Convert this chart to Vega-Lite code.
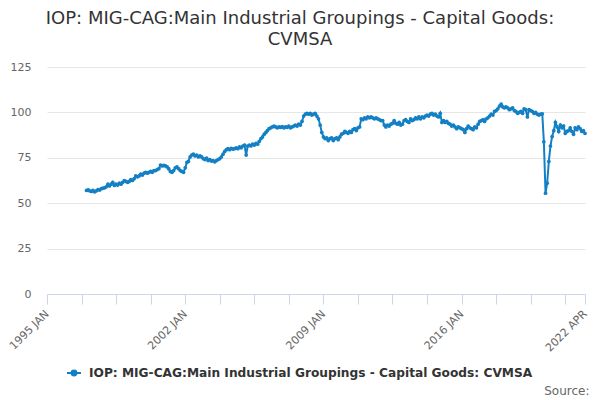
{
  "$schema": "https://vega.github.io/schema/vega-lite/v6.json",
  "width": 538,
  "height": 227,
  "autosize": {"type": "none"},
  "padding": {"left": 47, "top": 67, "right": 15, "bottom": 106},
  "background": "white",
  "title": {
    "text": ["IOP: MIG-CAG:Main Industrial Groupings - Capital Goods:", "CVMSA"],
    "font": "DejaVu Sans",
    "fontSize": 18,
    "fontWeight": "normal",
    "color": "#333333",
    "anchor": "middle",
    "dx": -16,
    "offset": 12,
    "lineHeight": 21
  },
  "data": {
    "values": [
      {"d":"1997-01-01","v":57.0},{"d":"1997-02-01","v":57.3},{"d":"1997-03-01","v":56.8},{"d":"1997-04-01","v":56.5},{"d":"1997-05-01","v":57.0},{"d":"1997-06-01","v":56.3},{"d":"1997-07-01","v":56.8},{"d":"1997-08-01","v":57.5},{"d":"1997-09-01","v":57.2},{"d":"1997-10-01","v":58.0},{"d":"1997-11-01","v":58.3},{"d":"1997-12-01","v":58.5},
      {"d":"1998-01-01","v":59.0},{"d":"1998-02-01","v":60.5},{"d":"1998-03-01","v":59.5},{"d":"1998-04-01","v":60.5},{"d":"1998-05-01","v":61.5},{"d":"1998-06-01","v":59.8},{"d":"1998-07-01","v":60.5},{"d":"1998-08-01","v":60.0},{"d":"1998-09-01","v":61.0},{"d":"1998-10-01","v":60.5},{"d":"1998-11-01","v":61.5},{"d":"1998-12-01","v":62.5},
      {"d":"1999-01-01","v":62.0},{"d":"1999-02-01","v":61.5},{"d":"1999-03-01","v":62.0},{"d":"1999-04-01","v":63.0},{"d":"1999-05-01","v":62.5},{"d":"1999-06-01","v":63.5},{"d":"1999-07-01","v":65.0},{"d":"1999-08-01","v":64.5},{"d":"1999-09-01","v":65.0},{"d":"1999-10-01","v":66.0},{"d":"1999-11-01","v":65.5},{"d":"1999-12-01","v":66.5},
      {"d":"2000-01-01","v":67.0},{"d":"2000-02-01","v":66.5},{"d":"2000-03-01","v":67.0},{"d":"2000-04-01","v":67.5},{"d":"2000-05-01","v":67.0},{"d":"2000-06-01","v":68.0},{"d":"2000-07-01","v":68.0},{"d":"2000-08-01","v":68.5},{"d":"2000-09-01","v":69.0},{"d":"2000-10-01","v":71.0},{"d":"2000-11-01","v":70.5},{"d":"2000-12-01","v":70.8},
      {"d":"2001-01-01","v":70.5},{"d":"2001-02-01","v":70.0},{"d":"2001-03-01","v":69.0},{"d":"2001-04-01","v":67.5},{"d":"2001-05-01","v":67.0},{"d":"2001-06-01","v":68.0},{"d":"2001-07-01","v":69.5},{"d":"2001-08-01","v":70.0},{"d":"2001-09-01","v":69.0},{"d":"2001-10-01","v":68.0},{"d":"2001-11-01","v":67.5},{"d":"2001-12-01","v":67.0},
      {"d":"2002-01-01","v":69.5},{"d":"2002-02-01","v":72.5},{"d":"2002-03-01","v":73.0},{"d":"2002-04-01","v":75.5},{"d":"2002-05-01","v":76.5},{"d":"2002-06-01","v":77.0},{"d":"2002-07-01","v":76.0},{"d":"2002-08-01","v":76.5},{"d":"2002-09-01","v":75.5},{"d":"2002-10-01","v":76.0},{"d":"2002-11-01","v":75.5},{"d":"2002-12-01","v":74.5},
      {"d":"2003-01-01","v":74.0},{"d":"2003-02-01","v":74.8},{"d":"2003-03-01","v":73.5},{"d":"2003-04-01","v":74.0},{"d":"2003-05-01","v":73.2},{"d":"2003-06-01","v":73.5},{"d":"2003-07-01","v":72.8},{"d":"2003-08-01","v":73.5},{"d":"2003-09-01","v":74.0},{"d":"2003-10-01","v":74.5},{"d":"2003-11-01","v":75.5},{"d":"2003-12-01","v":77.0},
      {"d":"2004-01-01","v":78.5},{"d":"2004-02-01","v":79.5},{"d":"2004-03-01","v":80.0},{"d":"2004-04-01","v":79.5},{"d":"2004-05-01","v":80.2},{"d":"2004-06-01","v":79.8},{"d":"2004-07-01","v":80.0},{"d":"2004-08-01","v":80.5},{"d":"2004-09-01","v":80.0},{"d":"2004-10-01","v":81.0},{"d":"2004-11-01","v":80.5},{"d":"2004-12-01","v":81.5},
      {"d":"2005-01-01","v":82.0},{"d":"2005-02-01","v":76.5},{"d":"2005-03-01","v":81.5},{"d":"2005-04-01","v":82.0},{"d":"2005-05-01","v":81.5},{"d":"2005-06-01","v":82.5},{"d":"2005-07-01","v":82.0},{"d":"2005-08-01","v":83.0},{"d":"2005-09-01","v":82.5},{"d":"2005-10-01","v":84.0},{"d":"2005-11-01","v":85.5},{"d":"2005-12-01","v":86.5},
      {"d":"2006-01-01","v":88.0},{"d":"2006-02-01","v":89.0},{"d":"2006-03-01","v":90.0},{"d":"2006-04-01","v":91.0},{"d":"2006-05-01","v":91.5},{"d":"2006-06-01","v":92.0},{"d":"2006-07-01","v":92.5},{"d":"2006-08-01","v":92.0},{"d":"2006-09-01","v":91.5},{"d":"2006-10-01","v":92.0},{"d":"2006-11-01","v":91.8},{"d":"2006-12-01","v":92.2},
      {"d":"2007-01-01","v":91.5},{"d":"2007-02-01","v":92.0},{"d":"2007-03-01","v":91.8},{"d":"2007-04-01","v":92.5},{"d":"2007-05-01","v":91.5},{"d":"2007-06-01","v":92.0},{"d":"2007-07-01","v":92.5},{"d":"2007-08-01","v":93.0},{"d":"2007-09-01","v":92.5},{"d":"2007-10-01","v":93.5},{"d":"2007-11-01","v":93.0},{"d":"2007-12-01","v":95.0},
      {"d":"2008-01-01","v":98.0},{"d":"2008-02-01","v":99.0},{"d":"2008-03-01","v":99.5},{"d":"2008-04-01","v":99.0},{"d":"2008-05-01","v":99.5},{"d":"2008-06-01","v":98.5},{"d":"2008-07-01","v":99.0},{"d":"2008-08-01","v":99.5},{"d":"2008-09-01","v":98.0},{"d":"2008-10-01","v":96.5},{"d":"2008-11-01","v":93.0},{"d":"2008-12-01","v":89.0},
      {"d":"2009-01-01","v":86.5},{"d":"2009-02-01","v":85.5},{"d":"2009-03-01","v":86.0},{"d":"2009-04-01","v":84.5},{"d":"2009-05-01","v":85.5},{"d":"2009-06-01","v":86.0},{"d":"2009-07-01","v":84.5},{"d":"2009-08-01","v":85.5},{"d":"2009-09-01","v":86.0},{"d":"2009-10-01","v":85.0},{"d":"2009-11-01","v":86.5},{"d":"2009-12-01","v":88.0},
      {"d":"2010-01-01","v":88.5},{"d":"2010-02-01","v":89.5},{"d":"2010-03-01","v":89.0},{"d":"2010-04-01","v":88.5},{"d":"2010-05-01","v":89.5},{"d":"2010-06-01","v":89.0},{"d":"2010-07-01","v":90.5},{"d":"2010-08-01","v":91.0},{"d":"2010-09-01","v":90.0},{"d":"2010-10-01","v":91.5},{"d":"2010-11-01","v":92.0},{"d":"2010-12-01","v":96.5},
      {"d":"2011-01-01","v":96.0},{"d":"2011-02-01","v":97.0},{"d":"2011-03-01","v":96.5},{"d":"2011-04-01","v":97.5},{"d":"2011-05-01","v":97.0},{"d":"2011-06-01","v":97.5},{"d":"2011-07-01","v":97.0},{"d":"2011-08-01","v":96.5},{"d":"2011-09-01","v":97.0},{"d":"2011-10-01","v":96.5},{"d":"2011-11-01","v":96.0},{"d":"2011-12-01","v":95.5},
      {"d":"2012-01-01","v":95.5},{"d":"2012-02-01","v":93.0},{"d":"2012-03-01","v":92.0},{"d":"2012-04-01","v":93.0},{"d":"2012-05-01","v":92.5},{"d":"2012-06-01","v":93.5},{"d":"2012-07-01","v":94.0},{"d":"2012-08-01","v":95.5},{"d":"2012-09-01","v":94.0},{"d":"2012-10-01","v":93.5},{"d":"2012-11-01","v":94.5},{"d":"2012-12-01","v":93.0},
      {"d":"2013-01-01","v":93.5},{"d":"2013-02-01","v":95.5},{"d":"2013-03-01","v":96.0},{"d":"2013-04-01","v":95.0},{"d":"2013-05-01","v":94.5},{"d":"2013-06-01","v":96.5},{"d":"2013-07-01","v":95.5},{"d":"2013-08-01","v":96.0},{"d":"2013-09-01","v":97.0},{"d":"2013-10-01","v":96.5},{"d":"2013-11-01","v":97.5},{"d":"2013-12-01","v":96.5},
      {"d":"2014-01-01","v":97.5},{"d":"2014-02-01","v":97.0},{"d":"2014-03-01","v":98.0},{"d":"2014-04-01","v":98.5},{"d":"2014-05-01","v":98.0},{"d":"2014-06-01","v":99.0},{"d":"2014-07-01","v":99.5},{"d":"2014-08-01","v":98.5},{"d":"2014-09-01","v":99.0},{"d":"2014-10-01","v":98.0},{"d":"2014-11-01","v":97.5},{"d":"2014-12-01","v":99.5},
      {"d":"2015-01-01","v":94.5},{"d":"2015-02-01","v":95.5},{"d":"2015-03-01","v":94.5},{"d":"2015-04-01","v":95.0},{"d":"2015-05-01","v":94.0},{"d":"2015-06-01","v":93.5},{"d":"2015-07-01","v":92.5},{"d":"2015-08-01","v":93.0},{"d":"2015-09-01","v":92.0},{"d":"2015-10-01","v":91.0},{"d":"2015-11-01","v":92.0},{"d":"2015-12-01","v":91.5},
      {"d":"2016-01-01","v":91.0},{"d":"2016-02-01","v":90.5},{"d":"2016-03-01","v":89.0},{"d":"2016-04-01","v":91.0},{"d":"2016-05-01","v":92.5},{"d":"2016-06-01","v":91.5},{"d":"2016-07-01","v":91.0},{"d":"2016-08-01","v":90.5},{"d":"2016-09-01","v":92.0},{"d":"2016-10-01","v":91.5},{"d":"2016-11-01","v":93.5},{"d":"2016-12-01","v":95.0},
      {"d":"2017-01-01","v":95.5},{"d":"2017-02-01","v":96.0},{"d":"2017-03-01","v":95.0},{"d":"2017-04-01","v":96.5},{"d":"2017-05-01","v":97.0},{"d":"2017-06-01","v":98.0},{"d":"2017-07-01","v":99.0},{"d":"2017-08-01","v":98.5},{"d":"2017-09-01","v":100.5},{"d":"2017-10-01","v":101.0},{"d":"2017-11-01","v":102.0},{"d":"2017-12-01","v":103.5},
      {"d":"2018-01-01","v":104.5},{"d":"2018-02-01","v":103.0},{"d":"2018-03-01","v":102.5},{"d":"2018-04-01","v":103.0},{"d":"2018-05-01","v":102.5},{"d":"2018-06-01","v":101.5},{"d":"2018-07-01","v":102.0},{"d":"2018-08-01","v":102.5},{"d":"2018-09-01","v":101.0},{"d":"2018-10-01","v":100.5},{"d":"2018-11-01","v":99.5},{"d":"2018-12-01","v":100.0},
      {"d":"2019-01-01","v":100.5},{"d":"2019-02-01","v":99.5},{"d":"2019-03-01","v":102.0},{"d":"2019-04-01","v":101.5},{"d":"2019-05-01","v":97.5},{"d":"2019-06-01","v":101.5},{"d":"2019-07-01","v":101.0},{"d":"2019-08-01","v":100.5},{"d":"2019-09-01","v":99.5},{"d":"2019-10-01","v":100.0},{"d":"2019-11-01","v":99.0},{"d":"2019-12-01","v":98.5},
      {"d":"2020-01-01","v":99.0},{"d":"2020-02-01","v":99.2},{"d":"2020-03-01","v":83.8},{"d":"2020-04-01","v":55.5},{"d":"2020-05-01","v":61.0},{"d":"2020-06-01","v":73.0},{"d":"2020-07-01","v":81.5},{"d":"2020-08-01","v":86.7},{"d":"2020-09-01","v":90.0},{"d":"2020-10-01","v":94.5},{"d":"2020-11-01","v":92.0},{"d":"2020-12-01","v":89.5},
      {"d":"2021-01-01","v":93.0},{"d":"2021-02-01","v":91.5},{"d":"2021-03-01","v":92.5},{"d":"2021-04-01","v":88.5},{"d":"2021-05-01","v":89.5},{"d":"2021-06-01","v":90.0},{"d":"2021-07-01","v":91.5},{"d":"2021-08-01","v":89.5},{"d":"2021-09-01","v":88.0},{"d":"2021-10-01","v":91.5},{"d":"2021-11-01","v":90.5},{"d":"2021-12-01","v":92.0},
      {"d":"2022-01-01","v":91.0},{"d":"2022-02-01","v":89.5},{"d":"2022-03-01","v":90.0},{"d":"2022-04-01","v":88.5}
    ]
  },
  "mark": {"type": "line", "strokeWidth": 2, "point": {"filled": true, "size": 14}},
  "encoding": {
    "x": {
      "field": "d",
      "type": "temporal",
      "title": "Source:",
      "scale": {
        "type": "utc",
        "nice": false,
        "domain": [
          {"year": 1995, "month": 1, "date": 1, "utc": true},
          {"year": 2022, "month": 4, "date": 1, "utc": true}
        ]
      },
      "axis": {
        "values": [
          {"year": 1995, "month": 1, "date": 1, "utc": true},
          {"year": 1996, "month": 10, "date": 1, "utc": true},
          {"year": 1998, "month": 7, "date": 1, "utc": true},
          {"year": 2000, "month": 4, "date": 1, "utc": true},
          {"year": 2002, "month": 1, "date": 1, "utc": true},
          {"year": 2003, "month": 10, "date": 1, "utc": true},
          {"year": 2005, "month": 7, "date": 1, "utc": true},
          {"year": 2007, "month": 4, "date": 1, "utc": true},
          {"year": 2009, "month": 1, "date": 1, "utc": true},
          {"year": 2010, "month": 10, "date": 1, "utc": true},
          {"year": 2012, "month": 7, "date": 1, "utc": true},
          {"year": 2014, "month": 4, "date": 1, "utc": true},
          {"year": 2016, "month": 1, "date": 1, "utc": true},
          {"year": 2017, "month": 10, "date": 1, "utc": true},
          {"year": 2019, "month": 7, "date": 1, "utc": true},
          {"year": 2021, "month": 4, "date": 1, "utc": true},
          {"year": 2022, "month": 4, "date": 1, "utc": true}
        ],
        "labelExpr": "((utcmonth(datum.value) == 0 && (utcyear(datum.value) - 1995) % 7 == 0) || utcyear(datum.value) == 2022) ? upper(utcFormat(datum.value, '%Y %b')) : ''",
        "grid": false,
        "domainColor": "#ccd6eb",
        "tickColor": "#ccd6eb",
        "tickSize": 10,
        "labelAngle": -45,
        "labelAlign": "right",
        "labelBaseline": "middle",
        "labelPadding": 8,
        "labelFont": "DejaVu Sans",
        "labelFontSize": 11,
        "labelColor": "#666666",
        "labelOverlap": false,
        "labelFlush": false,
        "titleFont": "DejaVu Sans",
        "titleFontSize": 12,
        "titleFontWeight": "normal",
        "titleColor": "#666666",
        "titleX": 542,
        "titleY": 100,
        "titleAlign": "right",
        "titleAnchor": null,
        "titleBaseline": "alphabetic"
      }
    },
    "y": {
      "field": "v",
      "type": "quantitative",
      "scale": {"domain": [0, 125], "nice": false},
      "axis": {
        "values": [0, 25, 50, 75, 100, 125],
        "title": null,
        "domain": false,
        "ticks": false,
        "gridColor": "#e6e6e6",
        "labelPadding": 16,
        "labelFont": "DejaVu Sans",
        "labelFontSize": 11,
        "labelColor": "#666666"
      }
    },
    "color": {
      "datum": "IOP: MIG-CAG:Main Industrial Groupings - Capital Goods: CVMSA",
      "scale": {"range": ["#1380c4"]},
      "legend": {
        "orient": "none",
        "legendX": 19,
        "legendY": 298,
        "title": null,
        "labelFont": "DejaVu Sans",
        "labelFontWeight": "bold",
        "labelFontSize": 12.2,
        "labelColor": "#333333",
        "labelLimit": 600,
        "labelOffset": 7,
        "symbolType": "M-1,0L1,0M-0.35,0A0.35,0.35,0,1,1,0.35,0A0.35,0.35,0,1,1,-0.35,0Z",
        "symbolSize": 196,
        "symbolStrokeWidth": 2,
        "symbolFillColor": "#1380c4",
        "symbolStrokeColor": "#1380c4"
      }
    }
  },
  "config": {"view": {"stroke": null}}
}
